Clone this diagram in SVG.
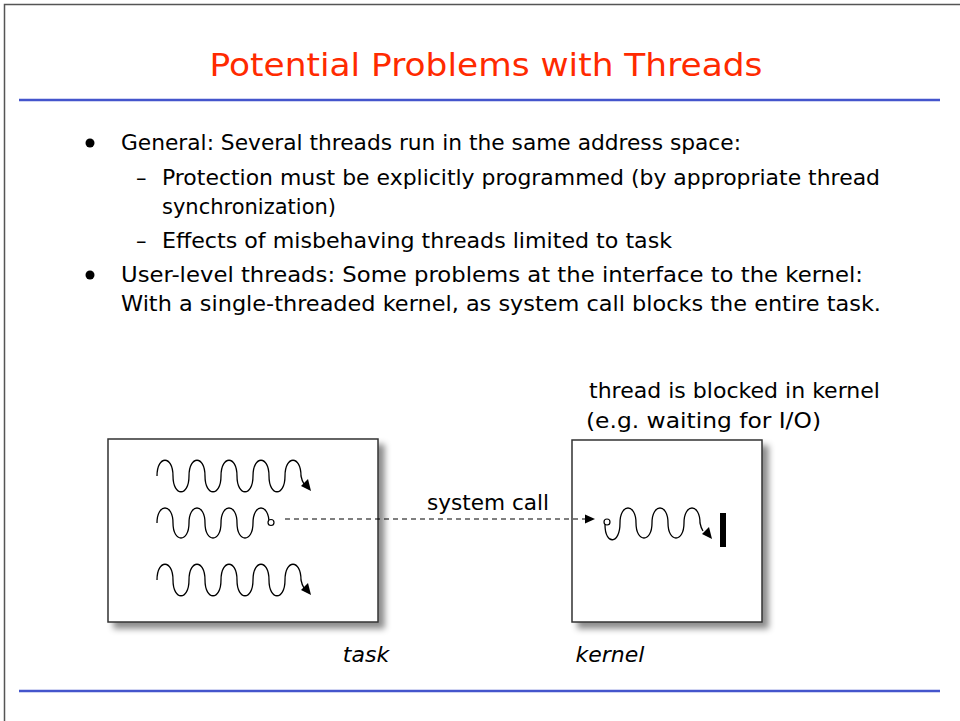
<svg xmlns="http://www.w3.org/2000/svg" width="960" height="721" viewBox="0 0 960 721">
  <defs>
    <filter id="shadow" x="-10%" y="-10%" width="130%" height="130%">
      <feDropShadow dx="6" dy="6" stdDeviation="3" flood-color="#000" flood-opacity="0.45"/>
    </filter>
  </defs>
  <style>
    .frame { fill: #fff; stroke: #555; stroke-width: 1.5; }
    .rule { stroke: #4455cc; stroke-width: 2.5; }
    .title { font-family: "DejaVu Sans", "Noto Sans", sans-serif; font-size: 32px; fill: #ff2a00; }
    .body { font-family: "DejaVu Sans", "Noto Sans", sans-serif; font-size: 21px; fill: #000; }
    .cap { font-family: "DejaVu Sans", "Noto Sans", sans-serif; font-size: 22px; fill: #000; font-style: italic; }
    .box { fill: #fff; stroke: #333; stroke-width: 1.5; filter: url(#shadow); }
    .wave { fill: none; stroke: #000; stroke-width: 1.3; }
    .head { fill: #000; }
    .dot { fill: #fff; stroke: #000; stroke-width: 1.2; }
    .dash { stroke: #000; stroke-width: 1.2; stroke-dasharray: 5 4; fill: none; }
  </style>

  <!-- slide frame -->
  <rect class="frame" x="4.5" y="4.5" width="1000" height="1000"/>

  <!-- title and rules -->
  <text class="title" x="486" y="76" text-anchor="middle" textLength="553" lengthAdjust="spacingAndGlyphs">Potential Problems with Threads</text>
  <line class="rule" x1="19" y1="100" x2="940" y2="100"/>
  <line class="rule" x1="19" y1="691" x2="940" y2="691"/>

  <!-- bullet list -->
  <g id="bullets">
    <circle cx="90" cy="143" r="4.5" fill="#000"/>
    <text class="body" x="121" y="150" textLength="620" lengthAdjust="spacingAndGlyphs">General: Several threads run in the same address space:</text>
    <text class="body" x="136" y="185">–</text>
    <text class="body" x="162" y="185" textLength="718" lengthAdjust="spacingAndGlyphs">Protection must be explicitly programmed (by appropriate thread</text>
    <text class="body" x="162" y="214" textLength="174" lengthAdjust="spacingAndGlyphs">synchronization)</text>
    <text class="body" x="136" y="248">–</text>
    <text class="body" x="162" y="248" textLength="510" lengthAdjust="spacingAndGlyphs">Effects of misbehaving threads limited to task</text>
    <circle cx="90" cy="275" r="4.5" fill="#000"/>
    <text class="body" x="121" y="282" textLength="742" lengthAdjust="spacingAndGlyphs">User-level threads: Some problems at the interface to the kernel:</text>
    <text class="body" x="121" y="311" textLength="760" lengthAdjust="spacingAndGlyphs">With a single-threaded kernel, as system call blocks the entire task.</text>
  </g>

  <!-- task: user process with three threads -->
  <g id="task">
    <rect class="box" x="108" y="439" width="270" height="183"/>
    <path class="wave" d="M157,476 c0,-21 16,-21 16,0 c0,21 16,21 16,0 c0,-21 16,-21 16,0 c0,21 16,21 16,0 c0,-21 16,-21 16,0 c0,21 16,21 16,0 c0,-21 16,-21 16,0 c0,21 16,21 16,0 c0,-21 16,-21 16,0 q1,5 3,8"/>
    <polygon class="head" points="311,491 301,486 308,479"/>
    <path class="wave" d="M157,523 c0,-20 16,-20 16,0 c0,20 16,20 16,0 c0,-20 16,-20 16,0 c0,20 16,20 16,0 c0,-20 16,-20 16,0 c0,20 16,20 16,0 c0,-20 16,-20 16,0 q0,-2 0,-2"/>
    <circle class="dot" cx="271" cy="522.5" r="3"/>
    <path class="wave" d="M157,580 c0,-21 16,-21 16,0 c0,21 16,21 16,0 c0,-21 16,-21 16,0 c0,21 16,21 16,0 c0,-21 16,-21 16,0 c0,21 16,21 16,0 c0,-21 16,-21 16,0 c0,21 16,21 16,0 c0,-21 16,-21 16,0 q1,5 3,8"/>
    <polygon class="head" points="311,595 301,590 308,583"/>
    <text class="cap" x="366" y="662" text-anchor="middle">task</text>
  </g>

  <!-- kernel with the blocked thread -->
  <g id="kernel">
    <rect class="box" x="572" y="440" width="190" height="182"/>
    <circle class="dot" cx="607" cy="522" r="3"/>
    <path class="wave" d="M605,525 c0,20 15,20 15,-2 c0,-20 16,-20 16,0 c0,20 16,20 16,0 c0,-20 16,-20 16,0 c0,20 16,20 16,0 c0,-20 16,-20 16,0 q1,5 3,8"/>
    <polygon class="head" points="712,539 702,534 709,527"/>
    <rect x="720" y="513" width="6" height="34" fill="#000"/>
    <text class="body" x="589" y="398" textLength="291" lengthAdjust="spacingAndGlyphs">thread is blocked in kernel</text>
    <text class="body" x="586" y="428" textLength="235" lengthAdjust="spacingAndGlyphs">(e.g. waiting for I/O)</text>
    <text class="cap" x="610" y="662" text-anchor="middle">kernel</text>
  </g>

  <!-- system call connector -->
  <g id="connectors">
    <line class="dash" x1="285" y1="519" x2="586" y2="519"/>
    <polygon class="head" points="595,519 585,514.5 585,523.5"/>
    <text class="body" x="488" y="510" text-anchor="middle" textLength="122" lengthAdjust="spacingAndGlyphs">system call</text>
  </g>
</svg>
